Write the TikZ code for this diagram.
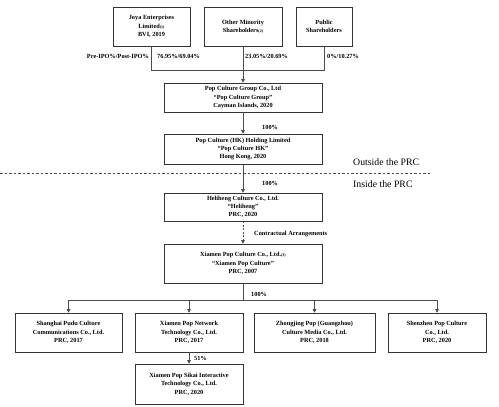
\documentclass[tikz,border=0pt]{standalone}
\usepackage{fontspec}
\setmainfont{Liberation Serif}
\usetikzlibrary{arrows.meta}
\tikzset{
  box/.style={draw=black!80, line width=0.6pt, fill=white, inner sep=0pt, align=center,
    font=\fontsize{6.3}{8.3}\selectfont\bfseries},
  conn/.style={draw=black!70, line width=0.6pt},
  arr/.style={conn, -{Triangle[length=3.5pt,width=3.5pt]}},
  lbl/.style={inner sep=0pt, font=\fontsize{6.3}{8}\selectfont\bfseries},
  side/.style={inner sep=0pt, anchor=west, font=\fontsize{9.8}{11}\selectfont}
}
\newcommand{\fn}[1]{\raisebox{0pt}{\fontsize{4}{4}\selectfont(#1)}}
\begin{document}
\begin{tikzpicture}[x=1pt,y=-1pt]
\useasboundingbox (0,0) rectangle (499,407);
% top shareholders
\node[box, minimum width=77pt, minimum height=39pt] (joya) at (151.5,26.5) {Joya Enterprises\\Limited\fn{1}\\BVI, 2019};
\node[box, minimum width=78pt, minimum height=39pt] (other) at (243,26.5) {Other Minority\\Shareholders\fn{2}};
\node[box, minimum width=56pt, minimum height=39pt] (public) at (324,26.5) {Public\\Shareholders};
\node[box, minimum width=158pt, minimum height=29pt] (group) at (243,97.5) {Pop Culture Group Co., Ltd\\``Pop Culture Group''\\Cayman Islands, 2020};
\node[box, minimum width=158pt, minimum height=30pt] (hk) at (243,149) {Pop Culture (HK) Holding Limited\\``Pop Culture HK''\\Hong Kong, 2020};
\node[box, minimum width=158pt, minimum height=28pt] (heli) at (243,207) {Heliheng Culture Co., Ltd.\\``Heliheng''\\PRC, 2020};
\node[box, minimum width=158pt, minimum height=39pt] (xiamen) at (243,263.5) {Xiamen Pop Culture Co., Ltd.\fn{3}\\``Xiamen Pop Culture''\\PRC, 2007};
\node[box, minimum width=107pt, minimum height=39pt] (shanghai) at (68.5,332.5) {Shanghai Pudu Culture\\Communications Co., Ltd.\\PRC, 2017};
\node[box, minimum width=108pt, minimum height=39pt] (network) at (189,332.5) {Xiamen Pop Network\\Technology Co., Ltd.\\PRC, 2017};
\node[box, minimum width=121pt, minimum height=39pt] (zhong) at (314.5,332.5) {Zhongjing Pop (Guangzhou)\\Culture Media Co., Ltd.\\PRC, 2018};
\node[box, minimum width=98pt, minimum height=39pt] (shenzhen) at (437,332.5) {Shenzhen Pop Culture\\Co., Ltd.\\PRC, 2020};
\node[box, minimum width=108pt, minimum height=40pt] (sikai) at (189,384) {Xiamen Pop Sikai Interactive\\Technology Co., Ltd.\\PRC, 2020};
% junctions
\coordinate (j1) at (243,70);
\coordinate (j2) at (243,300);
% shareholder connectors
\draw[conn] (joya.south) -- (joya.south |- j1) -- (public.south |- j1) -- (public.south);
\draw[arr] (other.south) -- (group.north);
\node[lbl, anchor=east] (pre) at (149,56) {Pre-IPO\%/Post-IPO\%};
\node[lbl, anchor=west] (l1) at (157,56) {76.95\%/69.04\%};
\node[lbl, anchor=west] (l2) at (245,56) {23.05\%/20.69\%};
\node[lbl, anchor=west] (l3) at (327,56) {0\%/10.27\%};
% chain
\draw[arr] (group.south) -- (hk.north);
\node[lbl, anchor=west] (p1) at (262,127) {100\%};
\draw[arr] (hk.south) -- (heli.north);
\node[lbl, anchor=west] (p2) at (262,183) {100\%};
\draw[arr, dashed, dash pattern=on 2pt off 1.5pt] (heli.south) -- (xiamen.north);
\node[lbl, anchor=west] (ca) at (254,234) {Contractual Arrangements};
% PRC divider
\coordinate (d1) at (0,173);
\coordinate (d2) at (430,173);
\draw[conn, dash pattern=on 2.5pt off 2pt, line width=0.5pt] (d1) -- (d2);
\node[side] (out) at (353,162) {Outside the PRC};
\node[side] (in) at (353,184) {Inside the PRC};
% subsidiaries
\draw[conn] (xiamen.south) -- (j2);
\draw[conn] (shanghai.north |- j2) -- (shenzhen.north |- j2);
\node[lbl, anchor=west] (p3) at (251,294) {100\%};
\draw[arr] (shanghai.north |- j2) -- (shanghai.north);
\draw[arr] (network.north |- j2) -- (network.north);
\draw[arr] (zhong.north |- j2) -- (zhong.north);
\draw[arr] (shenzhen.north |- j2) -- (shenzhen.north);
\draw[arr] (network.south) -- (sikai.north);
\node[lbl, anchor=west] (p4) at (194,358) {51\%};
\end{tikzpicture}
\end{document}
